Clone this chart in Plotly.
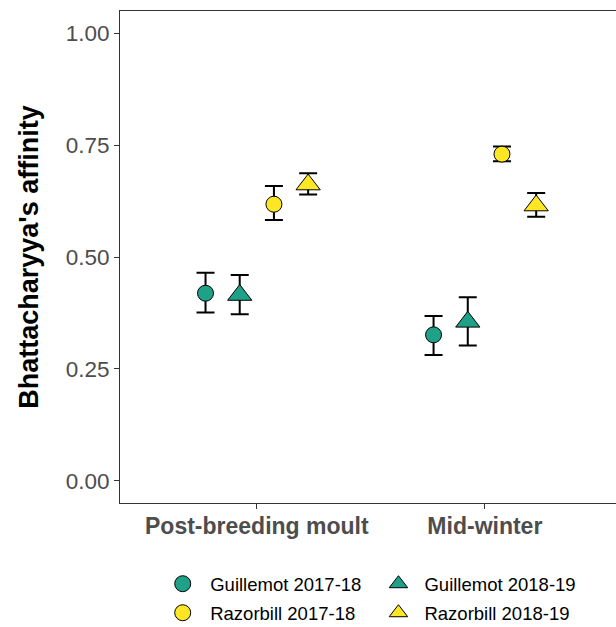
import plotly.graph_objects as go

# Seasons on the x axis
seasons = ["Post-breeding moult", "Mid-winter"]

# Species x winter groups, in dodge order
groups = ["Guillemot 2017-18", "Guillemot 2018-19", "Razorbill 2017-18", "Razorbill 2018-19"]

# Mean Bhattacharyya's affinity and error-bar limits per group (one value per season)
affinity_mean = {
    "Guillemot 2017-18": [0.419, 0.326],
    "Guillemot 2018-19": [0.415, 0.355],
    "Razorbill 2017-18": [0.618, 0.730],
    "Razorbill 2018-19": [0.662, 0.615],
}
affinity_upper = {
    "Guillemot 2017-18": [0.465, 0.368],
    "Guillemot 2018-19": [0.460, 0.410],
    "Razorbill 2017-18": [0.659, 0.747],
    "Razorbill 2018-19": [0.687, 0.643],
}
affinity_lower = {
    "Guillemot 2017-18": [0.376, 0.281],
    "Guillemot 2018-19": [0.372, 0.302],
    "Razorbill 2017-18": [0.583, 0.714],
    "Razorbill 2018-19": [0.640, 0.590],
}

y_ticks = [0.0, 0.25, 0.5, 0.75, 1.0]

GREEN = "#1FA187"
YELLOW = "#FDE725"
fills = {"Guillemot": GREEN, "Razorbill": YELLOW}
shapes = {"2017-18": "circle", "2018-19": "triangle-up"}
sizes = {"circle": 16, "triangle-up": 21}

FONT = "Liberation Sans, Arial, sans-serif"
DODGE = 0.6  # total dodge width, in category units

fig = go.Figure()
n = len(groups)
# one single-entry legend per group: two columns (winter) by two rows (species)
legend_ids = ["legend", "legend2", "legend3", "legend4"]
for i, g in enumerate(groups):
    species, winter = g.split(" ")
    offset = DODGE * ((i + 0.5) / n - 0.5)
    xs = [k + offset for k in range(len(seasons))]
    m = affinity_mean[g]
    up = [u - v for u, v in zip(affinity_upper[g], m)]
    lo = [v - l for v, l in zip(m, affinity_lower[g])]
    sym = shapes[winter]
    fig.add_trace(go.Scatter(
        x=xs, y=m, mode="markers", name=g,
        legend=legend_ids[i],
        marker=dict(symbol=sym, size=sizes[sym], color=fills[species],
                    line=dict(color="black", width=1)),
        error_y=dict(type="data", symmetric=False, array=up, arrayminus=lo,
                     color="black", thickness=2, width=9),
        cliponaxis=False,
    ))

legend_font = dict(family=FONT, size=18.5, color="black")
col_x = [0.071, 0.509]
col_itemwidth = [45, 42]
row_y = [-0.165, -0.224]
legend_layouts = {}
for j, lid in enumerate(legend_ids):
    legend_layouts[lid] = dict(
        x=col_x[j % 2], y=row_y[j // 2], xanchor="left", yanchor="middle",
        orientation="v", font=legend_font, bgcolor="rgba(0,0,0,0)",
        itemwidth=col_itemwidth[j % 2], borderwidth=0,
    )

fig.update_layout(
    width=616, height=627,
    margin=dict(l=120, r=0, t=11, b=124, autoexpand=False),
    paper_bgcolor="white", plot_bgcolor="white",
    showlegend=True,
    font=dict(family=FONT),
    **legend_layouts,
)

fig.update_xaxes(
    range=[-0.6, 1.575],
    tickvals=list(range(len(seasons))), ticktext=seasons,
    tickfont=dict(family=FONT, size=23, color="#4D4D4D", weight="bold"),
    ticks="outside", ticklen=5, tickwidth=1, tickcolor="#333333",
    ticklabelstandoff=-3,
    showline=True, mirror=True, linecolor="#333333", linewidth=1,
    showgrid=False, zeroline=False,
)
fig.update_yaxes(
    range=[-0.05, 1.05],
    tickvals=y_ticks, ticktext=[f"{v:.2f}" for v in y_ticks],
    tickfont=dict(family=FONT, size=22.5, color="#4D4D4D"),
    ticks="outside", ticklen=5, tickwidth=1, tickcolor="#333333",
    showline=True, mirror=False, linecolor="#333333", linewidth=1,
    showgrid=False, zeroline=False,
    title=dict(text="Bhattacharyya's affinity", standoff=19,
               font=dict(family=FONT, size=27, color="black", weight="bold")),
)

fig.write_html("out.html")
